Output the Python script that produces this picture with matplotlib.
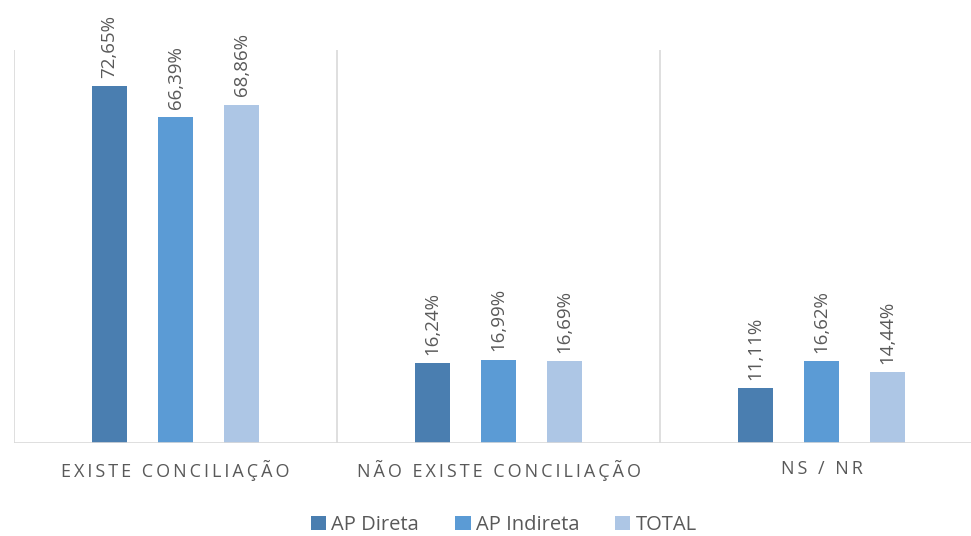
import matplotlib
matplotlib.use("Agg")
import matplotlib.pyplot as plt
import numpy as np

categories = ["EXISTE CONCILIAÇÃO", "NÃO EXISTE CONCILIAÇÃO", "NS / NR"]
series_names = ["AP Direta", "AP Indireta", "TOTAL"]
ap_direta = [72.65, 16.24, 11.11]
ap_indireta = [66.39, 16.99, 16.62]
total = [68.86, 16.69, 14.44]
colors = ["#4a7eb0", "#5b9bd5", "#adc6e5"]

plt.rcParams['font.family'] = ['Open Sans', 'DejaVu Sans']

W, H = 971, 536
fig = plt.figure(figsize=(W/100, H/100), dpi=100)
left_px, right_px, top_px, base_px = 14, 983, 50, 443
ax = fig.add_axes([left_px/W, (H-base_px)/H, (right_px-left_px)/W, (base_px-top_px)/H])

x = np.arange(len(categories))
width = 35/323
offs = [-66/323, 0, 66/323]
for vals, name, c, o in zip([ap_direta, ap_indireta, total], series_names, colors, offs):
    ax.bar(x + o, vals, width, color=c, label=name, zorder=3)
    for xi, v in zip(x + o, vals):
        ax.annotate(f"{v:.2f}%".replace(".", ","), (xi, v), xytext=(0, 6),
                    textcoords="offset points", rotation=90, ha="center", va="bottom",
                    fontsize=13.5, color="#595959")

ax.set_xlim(-0.5, 2.5)
ax.set_ylim(0, 80)
for s in ax.spines.values():
    s.set_visible(False)
ax.axhline(0, color="#d9d9d9", lw=1.2, zorder=4)
for sx in [-0.5, 0.5, 1.5, 2.5]:
    ax.axvline(sx, color="#d9d9d9", lw=1.2, zorder=1)
ax.set_yticks([])
ax.set_xticks(x)
sep = "\u2009"
spaced = [sep.join(list(c)) for c in categories]
ax.set_xticklabels(spaced, fontsize=13, color="#595959")
ax.tick_params(axis="x", length=0, pad=12)

fig.legend(loc="center", bbox_to_anchor=(504/W, 11/H), ncol=3, frameon=False,
           fontsize=14.5, handlelength=0.75, handleheight=0.75, handletextpad=0.25,
           columnspacing=1.8, labelcolor="#595959", borderaxespad=0, borderpad=0)

fig.savefig("out.png", dpi=100)
